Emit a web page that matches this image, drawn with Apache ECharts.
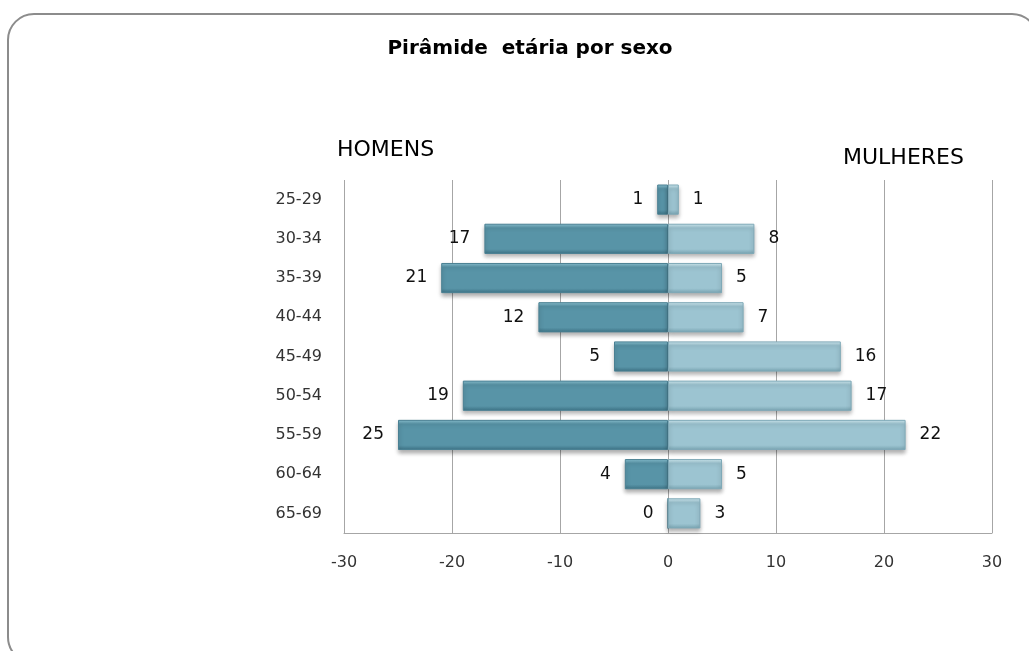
<!DOCTYPE html>
<html>
<head>
<meta charset="utf-8">
<script src="https://cdn.jsdelivr.net/npm/echarts@6/dist/echarts.min.js"></script>
<style>
html,body{margin:0;padding:0;background:#fff;overflow:hidden;}
#chart{width:1029px;height:651px;}
</style>
</head>
<body>
<div id="chart"></div>
<script>
var faixas = ['25-29','30-34','35-39','40-44','45-49','50-54','55-59','60-64','65-69'];
var homens = [-1,-17,-21,-12,-5,-19,-25,-4,0];
var mulheres = [1,8,5,7,16,17,22,5,3];
var ticksX = [-30,-20,-10,0,10,20,30];

var chart = echarts.init(document.getElementById('chart'));

// gradiente vertical p/ imitar o bisel das barras
function bevel(light, base, dark){
    return new echarts.graphic.LinearGradient(0,0,0,1,[
        {offset:0, color:light},
        {offset:0.14, color:base},
        {offset:0.84, color:base},
        {offset:1, color:dark}
    ]);
}

var labelStyle = {
    show:true,
    fontFamily:'DejaVu Sans',
    fontSize:17,
    color:'#111',
    distance:14,
    formatter:function(p){ return Math.abs(p.value); }
};

var option = {
    animation:false,
    graphic:[
        {
            type:'rect',
            shape:{x:8,y:14,width:1030,height:649,r:26},
            style:{fill:'none',stroke:'#8c8c8c',lineWidth:2}
        }
    ],
    title:[
        {text:'Pirâmide  etária por sexo',left:525,top:34,textAlign:'center',
         textStyle:{fontFamily:'DejaVu Sans',fontSize:20,fontWeight:'bold',color:'#000'}},
        {text:'HOMENS',left:332,top:134,
         textStyle:{fontFamily:'DejaVu Sans',fontSize:22,fontWeight:'normal',color:'#000'}},
        {text:'MULHERES',left:838,top:142,
         textStyle:{fontFamily:'DejaVu Sans',fontSize:22,fontWeight:'normal',color:'#000'}}
    ],
    grid:{left:344,top:180,width:648,height:353,containLabel:false},
    xAxis:{
        type:'value',
        min:ticksX[0],
        max:ticksX[ticksX.length-1],
        interval:10,
        axisLine:{show:true,lineStyle:{color:'#a6a6a6'}},
        axisTick:{show:false},
        axisLabel:{margin:22,fontFamily:'DejaVu Sans',fontSize:16,color:'#333'},
        splitLine:{show:true,lineStyle:{color:'#a6a6a6',width:1}}
    },
    yAxis:{
        type:'category',
        data:faixas,
        inverse:true,
        axisLine:{show:false},
        axisTick:{show:false},
        axisLabel:{margin:22,fontFamily:'DejaVu Sans',fontSize:16,color:'#333'}
    },
    series:[
        {
            name:'Homens',
            type:'bar',
            stack:'total',
            barCategoryGap:'23%',
            data:homens,
            label:Object.assign({},labelStyle,{position:'left'}),
            itemStyle:{
                color:bevel('#8cc3d3','#5894a7','#3d7285'),
                borderColor:'#4a8093',
                borderWidth:1,
                shadowColor:'rgba(0,0,0,0.3)',
                shadowBlur:4,
                shadowOffsetY:3
            }
        },
        {
            name:'Mulheres',
            type:'bar',
            stack:'total',
            data:mulheres,
            label:Object.assign({},labelStyle,{position:'right'}),
            itemStyle:{
                color:bevel('#d2ecf3','#9cc4d1','#79a4b2'),
                borderColor:'#7fa9b7',
                borderWidth:1,
                shadowColor:'rgba(0,0,0,0.3)',
                shadowBlur:4,
                shadowOffsetY:3
            }
        }
    ]
};

chart.setOption(option);
</script>
</body>
</html>
